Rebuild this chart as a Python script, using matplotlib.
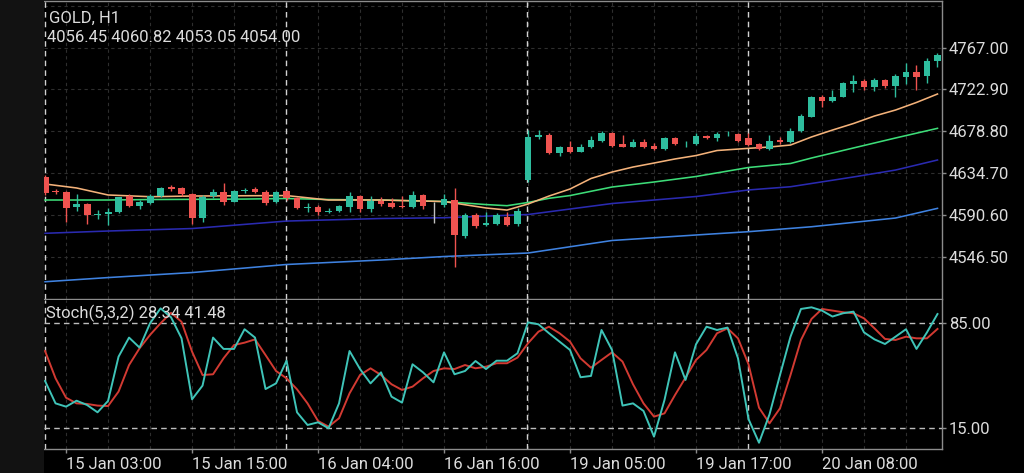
import matplotlib
matplotlib.use("Agg")
import matplotlib.pyplot as plt
from matplotlib.patches import Rectangle

plt.rcParams['font.family'] = ['Roboto', 'DejaVu Sans']

# H1 candles, one row per bar (open, high, low, close)
opens = [4630.9, 4615.6, 4614.4, 4598.6, 4602.1, 4590.8, 4591.2, 4594.0, 4610.5, 4600.3,
         4602.8, 4610.5, 4619.7, 4618.6, 4612.3, 4587.0, 4610.5, 4614.4, 4604.5, 4615.8,
         4617.6, 4614.8, 4603.9, 4615.8, 4608.7, 4597.5, 4599.2, 4593.3, 4595.0, 4599.2,
         4610.5, 4596.5, 4605.6, 4602.8, 4600.0, 4598.6, 4611.6, 4601.7, 4601.0, 4606.3,
         4568.6, 4590.5, 4579.9, 4581.0, 4588.7, 4580.7, 4627.4, 4672.4, 4674.9, 4655.6,
         4661.9, 4657.3, 4661.9, 4668.9, 4677.3, 4665.1, 4662.5, 4667.8, 4663.3, 4659.8,
         4671.4, 4665.0, 4665.1, 4674.1, 4671.4, 4675.6, 4675.9, 4671.4, 4665.1, 4659.8,
         4669.6, 4667.5, 4679.4, 4694.2, 4714.6, 4711.1, 4715.3, 4728.4, 4732.2, 4725.8,
         4732.9, 4726.6, 4736.4, 4741.0, 4737.1, 4753.3]
highs = [4632.7, 4617.9, 4615.8, 4612.3, 4602.8, 4595.7, 4597.5, 4610.0, 4612.3, 4606.3,
         4612.3, 4620.3, 4622.1, 4620.3, 4613.4, 4611.6, 4617.6, 4624.0, 4616.9, 4619.3,
         4619.7, 4616.4, 4616.2, 4617.2, 4609.8, 4602.8, 4601.3, 4597.5, 4601.0, 4615.1,
         4611.6, 4610.8, 4609.1, 4608.1, 4610.8, 4615.8, 4612.3, 4604.5, 4612.3, 4619.3,
         4592.3, 4592.3, 4594.0, 4592.3, 4594.0, 4597.5, 4680.1, 4680.1, 4677.3, 4663.3,
         4668.9, 4665.1, 4673.8, 4679.1, 4678.4, 4674.9, 4670.7, 4670.3, 4666.1, 4673.1,
         4673.1, 4668.9, 4676.7, 4674.9, 4678.4, 4679.4, 4677.3, 4677.3, 4666.7, 4674.9,
         4673.1, 4681.9, 4697.0, 4716.0, 4717.1, 4722.3, 4731.1, 4738.2, 4733.6, 4734.7,
         4733.6, 4738.9, 4751.1, 4748.7, 4755.8, 4761.7]
lows = [4611.6, 4612.6, 4582.8, 4594.7, 4580.7, 4586.3, 4579.9, 4593.1, 4599.2, 4596.8,
        4601.7, 4609.8, 4615.8, 4610.8, 4580.7, 4582.8, 4608.1, 4601.0, 4603.9, 4613.4,
        4613.4, 4601.0, 4603.2, 4606.6, 4597.3, 4593.3, 4590.5, 4592.3, 4594.1, 4594.0,
        4594.0, 4594.0, 4600.3, 4598.2, 4598.2, 4597.5, 4596.8, 4581.7, 4599.2, 4535.9,
        4566.5, 4576.4, 4579.2, 4579.9, 4579.2, 4579.2, 4625.6, 4670.3, 4654.8, 4652.7,
        4656.2, 4656.6, 4660.8, 4667.8, 4662.5, 4661.9, 4661.9, 4661.5, 4659.1, 4659.1,
        4664.3, 4661.9, 4664.0, 4670.7, 4668.9, 4673.8, 4667.8, 4663.3, 4659.1, 4659.1,
        4665.4, 4666.7, 4678.4, 4693.5, 4704.7, 4710.0, 4714.6, 4720.6, 4722.3, 4721.6,
        4724.1, 4715.3, 4728.4, 4722.3, 4729.4, 4746.3]
closes = [4613.4, 4614.6, 4598.2, 4602.1, 4590.5, 4591.6, 4594.0, 4609.1, 4600.3, 4604.5,
          4610.5, 4619.3, 4617.6, 4612.3, 4587.0, 4609.1, 4615.1, 4604.5, 4615.8, 4616.4,
          4614.4, 4602.8, 4615.1, 4608.1, 4598.2, 4599.2, 4594.0, 4595.0, 4600.0, 4610.8,
          4596.5, 4605.6, 4601.7, 4599.2, 4598.6, 4611.6, 4600.3, 4601.7, 4607.0, 4569.4,
          4590.5, 4579.2, 4581.7, 4590.5, 4579.9, 4594.7, 4672.4, 4674.9, 4655.6, 4661.9,
          4657.3, 4662.5, 4669.6, 4677.3, 4663.6, 4662.5, 4667.8, 4662.5, 4659.8, 4671.4,
          4665.4, 4665.8, 4674.1, 4671.4, 4675.9, 4676.2, 4668.5, 4664.3, 4659.8, 4668.9,
          4667.8, 4679.4, 4694.9, 4714.6, 4711.1, 4715.3, 4729.4, 4732.2, 4725.8, 4732.9,
          4726.6, 4737.1, 4741.0, 4736.4, 4753.3, 4759.3]

# moving averages, read at a few bars
ma_fast_bars = [0, 3, 6, 10, 14, 19, 23, 27, 32, 38, 42, 44, 46, 48, 50, 52, 54, 56, 58, 60,
                62, 64, 67, 69, 71, 73, 75, 77, 79, 81, 83, 85]
ma_fast = [4623.2, 4619.0, 4611.6, 4609.8, 4610.5, 4610.8, 4611.0, 4606.3, 4606.3, 4604.7,
           4597.9, 4595.7, 4602.1, 4610.5, 4617.9, 4629.0, 4635.8, 4641.1, 4645.3, 4649.6,
           4653.2, 4658.5, 4660.8, 4662.2, 4664.3, 4672.8, 4680.1, 4687.0, 4694.9, 4701.2,
           4709.2, 4718.1]
ma_mid_bars = [0, 3, 6, 10, 14, 19, 23, 27, 32, 38, 42, 44, 46, 48, 50, 54, 58, 62, 67, 71, 73, 77, 81, 85]
ma_mid = [4606.3, 4606.3, 4606.3, 4606.8, 4607.0, 4607.3, 4607.9, 4606.8, 4606.3, 4604.7, 4601.5, 4600.3,
          4603.7, 4608.1, 4611.0, 4620.0, 4625.3, 4631.1, 4640.6, 4644.8, 4650.6, 4661.2, 4671.7, 4681.9]
ma_slow_bars = [0, 6, 14, 23, 32, 38, 46, 54, 62, 67, 71, 77, 81, 85]
ma_slow = [4571.2, 4573.6, 4576.2, 4584.1, 4586.8, 4587.6, 4591.0, 4602.6, 4610.0, 4616.9, 4620.3,
           4630.6, 4637.9, 4648.5]
ma_long_bars = [0, 6, 14, 23, 32, 38, 46, 54, 62, 67, 73, 81, 85]
ma_long = [4520.1, 4524.5, 4529.8, 4538.3, 4543.0, 4546.7, 4550.4, 4563.6, 4569.4, 4572.9, 4578.1,
           4587.3, 4597.5]

# Stochastic (5,3,2)
stoch_main = [46.3, 31.3, 29.1, 33.1, 30.2, 25.3, 32.9, 62.6, 75.4, 68.7,
              85.0, 95.0, 89.0, 74.9, 34.0, 43.2, 75.4, 67.8, 67.8, 81.0,
              75.4, 40.9, 44.7, 59.9, 25.3, 16.8, 18.6, 14.6, 31.3, 66.4,
              54.3, 44.7, 52.1, 35.8, 31.8, 57.5, 52.1, 45.4, 65.5, 50.8,
              53.0, 59.7, 54.3, 59.9, 59.9, 64.9, 85.6, 84.3, 78.3, 72.7,
              67.1, 48.8, 49.7, 80.5, 67.1, 29.8, 31.3, 26.2, 9.0, 33.6,
              65.5, 47.0, 70.9, 82.7, 80.5, 82.1, 61.5, 20.8, 4.9, 23.9,
              50.3, 76.0, 94.6, 95.7, 93.5, 89.5, 91.7, 92.8, 78.9, 74.2,
              71.1, 76.0, 81.0, 67.8, 78.9, 91.2]
stoch_signal = [66.4, 48.1, 35.1, 31.3, 30.9, 29.8, 29.5, 39.2, 57.0, 68.2,
                77.2, 85.0, 92.0, 86.0, 66.0, 50.3, 50.8, 61.5, 70.4, 72.0,
                74.2, 63.7, 53.0, 48.1, 40.7, 31.3, 19.5, 15.7, 21.3, 38.0,
                50.3, 54.8, 50.3, 44.1, 40.3, 42.5, 48.1, 53.0, 54.8, 54.3,
                57.0, 54.8, 55.9, 58.2, 58.2, 62.0, 71.6, 79.4, 82.7, 78.3,
                72.7, 61.5, 55.2, 60.4, 65.5, 59.3, 44.1, 31.3, 22.4, 24.6,
                36.9, 48.5, 60.4, 67.1, 78.3, 81.6, 74.9, 57.5, 28.4, 17.9,
                28.0, 50.3, 73.8, 87.9, 94.6, 93.5, 92.4, 91.7, 88.3, 81.6,
                74.5, 73.8, 76.0, 74.9, 74.9, 81.2]

price_levels = [4546.50, 4590.60, 4634.70, 4678.80, 4722.90, 4767.00]
grid_levels = price_levels + [4811.10]
stoch_levels = [15.0, 85.0]
date_bars = [2, 14, 26, 38, 50, 62, 74]
date_labels = ['15 Jan 03:00', '15 Jan 15:00', '16 Jan 04:00', '16 Jan 16:00',
               '19 Jan 05:00', '19 Jan 17:00', '20 Jan 08:00']
day_bars = [0, 23, 46, 67]

BULL = '#2ebd9e'
BEAR = '#ef5350'
TXT = '#dcdcdc'
EDGE = '#8c8c8c'
GRID = '#2e2e2e'
FS = 12

fig = plt.figure(figsize=(10.24, 4.73), dpi=100, facecolor='black')
fig.patches.append(Rectangle((0, 0), 43.5 / 1024, 1, transform=fig.transFigure,
                             facecolor='#121212', edgecolor='none', zorder=0))

left, right = 44 / 1024, 942 / 1024
ax = fig.add_axes([left, 1 - 299 / 473, right - left, 298 / 473])
ax2 = fig.add_axes([left, 1 - 449 / 473, right - left, 149 / 473], sharex=ax)

n = len(closes)
xs = list(range(n))

for a in (ax, ax2):
    a.set_facecolor('black')
    for i in range(2, n, 4):
        a.axvline(i, color=GRID, lw=0.8, dashes=(3, 3), zorder=0)
    for d in day_bars:
        a.axvline(d - 0.05, color='#d2d2d2', lw=1.0, dashes=(4, 3), zorder=1)
    a.spines['left'].set_visible(False)
    for s in ('top', 'right', 'bottom'):
        a.spines[s].set_color(EDGE)
        a.spines[s].set_linewidth(1.0)
    a.yaxis.tick_right()
    a.tick_params(axis='y', colors=EDGE, labelcolor=TXT, length=3, width=1,
                  labelsize=FS, pad=2)
    a.tick_params(axis='x', colors=EDGE, labelcolor=TXT, length=3, width=1,
                  labelsize=FS, pad=3)

for lv in grid_levels:
    ax.axhline(lv, color=GRID, lw=0.8, dashes=(3, 3), zorder=0)

# candles
for i in xs:
    o, h, l, c = opens[i], highs[i], lows[i], closes[i]
    if c > o:
        col = BULL
    elif c < o:
        col = BEAR
    else:
        col = '#c0c0c0'
    ax.vlines(i, l, h, color=col, lw=1.0, zorder=3)
    ax.bar(i, max(abs(c - o), 0.7), bottom=min(o, c), width=0.66, color=col,
           edgecolor='none', zorder=4)

ax.plot(ma_long_bars, ma_long, color='#3f82e0', lw=1.15, zorder=2)
ax.plot(ma_slow_bars, ma_slow, color='#2a2ab0', lw=1.15, zorder=2)
ax.plot(ma_mid_bars, ma_mid, color='#3ddc78', lw=1.15, zorder=2)
ax.plot(ma_fast_bars, ma_fast, color='#f4b27a', lw=1.15, zorder=2)

ax.set_xlim(-0.1, 85.43)
ax.set_ylim(4501.9, 4816.2)
ax.set_yticks(price_levels)
ax.set_yticklabels(['%.2f' % v for v in price_levels])
ax.tick_params(axis='x', bottom=False, labelbottom=False)

# stochastic panel
for lv in stoch_levels:
    ax2.axhline(lv, color='#bdbdbd', lw=1.0, dashes=(4, 3), zorder=1)
ax2.plot(xs, stoch_signal, color='#d23a32', lw=1.4, zorder=3)
ax2.plot(xs, stoch_main, color='#3fc4b8', lw=1.4, zorder=4)
ax2.set_ylim(0.7, 100.6)
ax2.set_yticks(stoch_levels)
ax2.set_yticklabels(['%.2f' % v for v in stoch_levels])
ax2.set_xticks(date_bars)
ax2.set_xticklabels(date_labels, ha='left')
ax2.spines['top'].set_visible(False)

fig.text(49 / 1024, 1 - 18.5 / 473, 'GOLD, H1', color=TXT, fontsize=FS, va='center')
fig.text(47 / 1024, 1 - 38 / 473, '4056.45 4060.82 4053.05 4054.00', color=TXT,
         fontsize=FS, va='center')
fig.text(46 / 1024, 1 - 313.5 / 473, 'Stoch(5,3,2) 28.34 41.48', color=TXT,
         fontsize=FS, va='center', zorder=10)

fig.savefig('out.png', dpi=100, facecolor='black')
